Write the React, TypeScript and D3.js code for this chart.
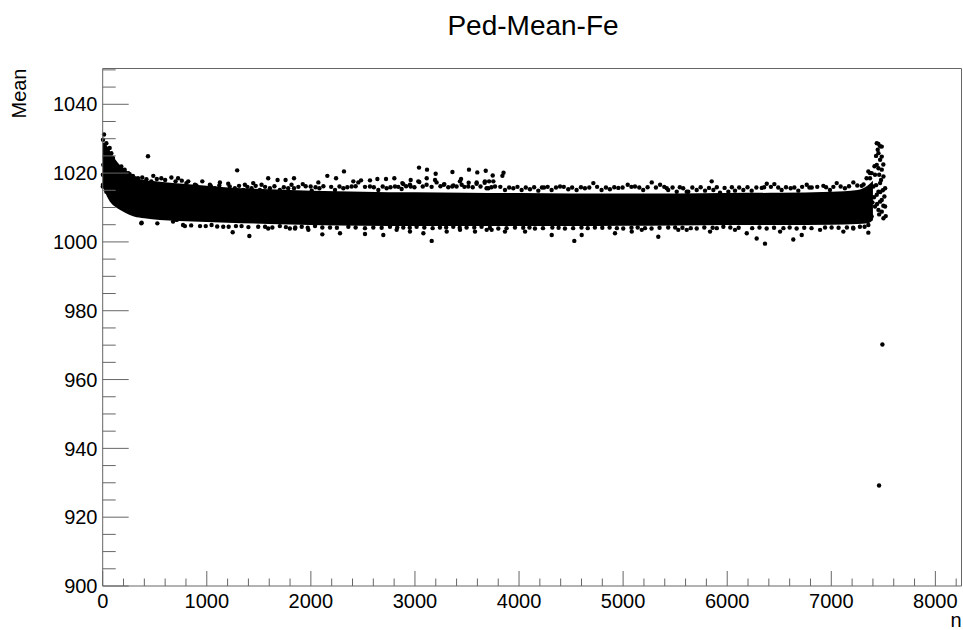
import React from "react";
import * as d3 from "d3";

// Pedestal mean per channel index n.

// Dense core of the distribution: lower / upper edge of the solid band.
const coreN = [0, 40, 80, 120, 160, 220, 300, 400, 550, 800, 1200, 1600, 2000, 2500, 3000, 3500, 4000, 4500, 5000, 5500, 6000, 6500, 7000, 7250, 7350, 7400];
const coreHi = [1029, 1028, 1025.8, 1024, 1022.5, 1021, 1018.8, 1018, 1017.5, 1016.8, 1015.8, 1015.3, 1014.9, 1014.6, 1014.4, 1014.3, 1014.2, 1014.1, 1014.1, 1014.1, 1014.2, 1014.3, 1014.6, 1015.1, 1016.4, 1017.8];
const coreLo = [1016, 1013.3, 1011.3, 1010.2, 1009.4, 1008.4, 1007.4, 1006.9, 1006.4, 1006.0, 1005.6, 1005.2, 1004.9, 1004.7, 1004.6, 1004.6, 1004.6, 1004.6, 1004.7, 1004.8, 1004.9, 1004.9, 1005.0, 1005.2, 1005.4, 1006.3];

// Channels above the core.
const upperPoints: [number, number][] = [
  [13, 1031.2], [3, 1029.7], [35, 1028.7], [67, 1027.3], [83, 1025.8], [19, 1024.8], [5, 1022.4], [99, 1024.4], [115, 1022.9],
  [2, 1019.5], [3, 1016.6], [51, 1018.0], [179, 1021.9], [211, 1021.0], [163, 1019.5], [259, 1019.7], [339, 1018.5], [435, 1024.9],
  [467, 1017.6], [563, 1018.5], [660, 1018.7], [724, 1018.5], [804, 1017.1], [246, 1020.0], [486, 1019.2],
  [25, 1027.0], [45, 1026.5], [60, 1025.5], [75, 1024.3], [90, 1023.5], [110, 1021.5], [130, 1022.2], [140, 1020.5], [195, 1020.2],
  [230, 1019.8], [290, 1019.2], [310, 1018.5], [380, 1018.7], [420, 1018.2], [520, 1018.3], [600, 1018.0], [700, 1017.6], [760, 1017.8],
  [822, 1017.6], [886, 1016.6], [957, 1017.6], [1030, 1016.6], [1126, 1017.3], [1206, 1016.9], [1292, 1020.8], [1366, 1016.6],
  [1446, 1017.1], [1526, 1016.6], [1590, 1018.5], [1680, 1018.0], [1757, 1018.0], [1814, 1016.6],
  [854, 1015.6], [998, 1015.1], [1078, 1015.6], [1174, 1015.1], [1270, 1015.6], [1350, 1015.1], [1430, 1015.6], [1510, 1015.1],
  [1606, 1015.6], [1702, 1015.1], [1782, 1015.6],
  [1838, 1018.5], [1922, 1016.8], [2072, 1017.3], [2158, 1019.2], [2242, 1018.5], [2318, 1020.5], [2408, 1017.6], [2482, 1017.9],
  [2568, 1017.9], [2639, 1018.3], [2722, 1018.3], [2802, 1018.5], [2879, 1017.1], [2959, 1018.0], [3039, 1021.6], [3116, 1021.0],
  [3199, 1019.8], [3360, 1020.3], [3519, 1021.0], [3599, 1020.2], [3680, 1020.7],
  [2888, 1016.8], [2959, 1016.1], [3042, 1017.4], [3113, 1018.5], [3193, 1018.0], [3282, 1016.8], [3443, 1018.3], [3449, 1016.6],
  [3369, 1016.4], [3516, 1017.2], [3593, 1017.3], [3670, 1017.2], [3747, 1019.3], [3753, 1017.6],
  [1838, 1015.6], [1998, 1016.1], [2008, 1014.9], [2082, 1015.6], [2232, 1015.1], [2312, 1015.6], [2392, 1016.1], [2456, 1017.3],
  [2568, 1016.1], [2648, 1015.1], [2728, 1015.6], [2808, 1016.1], [2872, 1015.4], [2952, 1016.6], [3032, 1017.6], [3112, 1016.6],
  [3208, 1017.3], [3278, 1016.6], [3358, 1016.1], [3432, 1017.6], [3512, 1016.1], [3592, 1016.9], [3672, 1017.6], [3688, 1015.6],
  [3712, 1017.6], [3840, 1019.2], [3851, 1020.1], [4240, 1015.8], [4394, 1016.1], [4714, 1017.1], [4954, 1015.7], [5044, 1016.6],
  [5114, 1016.1], [5275, 1017.3], [5355, 1016.6], [5419, 1015.6], [5515, 1014.6],
  [3705, 1015.6], [3769, 1016.1], [3865, 1015.1], [3945, 1015.6], [4025, 1015.1], [4105, 1015.3], [4185, 1014.9], [4313, 1015.1],
  [4473, 1015.3], [4553, 1015.1], [4633, 1015.6], [4793, 1015.1], [4873, 1015.3], [5193, 1015.1], [5433, 1015.1], [5577, 1015.6],
  [5626, 1014.6], [5851, 1017.6], [5931, 1014.3], [6075, 1014.9], [6332, 1015.7], [6380, 1016.9], [6453, 1016.8], [6610, 1015.6],
  [6764, 1016.6], [6812, 1015.8], [6924, 1016.3], [7052, 1017.1], [7212, 1017.3], [7292, 1016.3],
  [5611, 1014.6], [5707, 1015.1], [5787, 1014.9], [5867, 1015.1], [6011, 1014.6], [6155, 1015.1], [6235, 1014.9], [6523, 1015.1],
  [6683, 1014.9], [6987, 1015.1], [7131, 1015.6], [7339, 1018.5], [7371, 1020.0],
];

// Ragged top edge of the core.
const upperEdge: [number, number][] = [
  [900, 1016.4], [1040, 1016.2], [1120, 1016.4], [1220, 1016.1], [1310, 1016.3], [1390, 1016.0], [1470, 1016.3], [1560, 1016.0],
  [1650, 1016.2], [1740, 1015.9], [1880, 1016.0], [1950, 1016.2], [2045, 1015.9], [2120, 1016.2], [2195, 1016.0], [2275, 1016.1],
  [2350, 1015.9], [2430, 1016.2], [2520, 1016.0], [2605, 1015.9], [2690, 1016.1], [2765, 1015.9], [2840, 1016.0], [2915, 1016.2],
  [2995, 1015.9], [3075, 1016.1], [3160, 1016.0], [3245, 1016.2], [3320, 1015.9], [3400, 1016.1], [3475, 1016.0], [3555, 1015.9],
  [3630, 1016.1], [3735, 1015.9], [3820, 1016.0], [3905, 1015.8], [3985, 1016.0], [4065, 1015.8], [4145, 1015.9], [4220, 1015.8],
  [4275, 1016.0], [4355, 1015.8], [4430, 1016.0], [4510, 1015.8], [4595, 1015.9], [4675, 1015.8], [4750, 1016.0], [4835, 1015.8],
  [4915, 1015.9], [4995, 1015.8], [5080, 1016.0], [5155, 1015.8], [5235, 1015.9], [5315, 1015.8], [5395, 1016.0], [5475, 1015.8],
  [5545, 1015.9], [5665, 1015.8], [5745, 1015.9], [5825, 1015.7], [5900, 1015.9], [5975, 1015.7], [6045, 1015.9], [6115, 1015.8],
  [6195, 1015.9], [6280, 1015.8], [6355, 1015.9], [6420, 1016.0], [6490, 1015.8], [6565, 1015.9], [6645, 1015.8], [6720, 1016.0],
  [6790, 1015.8], [6865, 1016.0], [6950, 1015.9], [7020, 1016.0], [7090, 1016.1], [7170, 1016.2], [7250, 1016.4], [7310, 1016.7],
];

// Channels below the core.
const lowerPoints: [number, number][] = [
  [371, 1005.4], [525, 1005.4], [676, 1005.9], [772, 1004.9], [403, 1007.8], [275, 1008.8], [147, 1011.2], [115, 1012.2], [35, 1014.6], [1, 1016.1],
  [374, 1005.6], [711, 1006.4], [790, 1004.6], [935, 1004.6], [1158, 1004.4], [1249, 1002.8], [1409, 1001.7], [1590, 1003.9],
  [1798, 1003.9], [1046, 1004.9], [1334, 1004.6], [1494, 1004.4], [1702, 1004.6],
  [1848, 1003.9], [2110, 1002.2], [3161, 1000.3], [1976, 1003.5], [2280, 1002.5], [2520, 1002.3], [2696, 1002.0], [2824, 1003.5],
  [2952, 1003.0], [3081, 1002.5], [3305, 1003.0], [3433, 1003.5], [3577, 1003.0], [3689, 1003.5],
  [1912, 1004.4], [2040, 1004.6], [2184, 1004.2], [2360, 1004.4], [2600, 1004.2], [2760, 1004.4], [2888, 1004.2], [3016, 1004.4],
  [3240, 1004.2], [3368, 1004.4], [3496, 1004.2], [3640, 1004.4],
  [4531, 1000.3], [5338, 1001.5], [4314, 1002.0], [4602, 1002.0], [4922, 1002.5], [5083, 1003.0], [5179, 1003.5], [5530, 1003.5],
  [4058, 1003.0], [3865, 1003.0], [3737, 1003.5],
  [3801, 1003.9], [3961, 1004.2], [4153, 1003.9], [4441, 1003.9], [4729, 1004.2], [5001, 1003.9], [5273, 1003.9], [5433, 1004.2],
  [6363, 999.5], [6283, 1001.0], [6635, 1000.7], [6716, 1002.0], [7356, 1002.7], [5611, 1003.5], [5835, 1003.0], [6075, 1003.5],
  [6188, 1002.5], [6508, 1003.0], [6892, 1003.5], [7116, 1003.0], [7212, 1003.9],
  [5707, 1003.9], [5963, 1004.4], [6379, 1003.9], [6667, 1003.9], [7003, 1004.2], [7275, 1004.4],
];

// Ragged bottom edge of the core.
const lowerEdge: [number, number][] = [
  [850, 1004.8], [990, 1004.6], [1100, 1004.5], [1210, 1004.4], [1280, 1004.6], [1400, 1004.3], [1560, 1004.4], [1630, 1004.2],
  [1760, 1004.3], [1850, 1004.2], [1970, 1004.1], [2110, 1004.2], [2250, 1004.1], [2430, 1004.2], [2520, 1004.0], [2680, 1004.1],
  [2830, 1004.2], [2950, 1004.1], [3090, 1004.2], [3170, 1004.0], [3300, 1004.2], [3430, 1004.1], [3570, 1004.2], [3720, 1004.1],
  [3880, 1004.0], [4040, 1004.1], [4100, 1004.2], [4230, 1004.0], [4320, 1004.2], [4380, 1004.1], [4520, 1004.0], [4600, 1004.2],
  [4660, 1004.0], [4800, 1004.1], [4870, 1004.2], [4940, 1004.0], [5080, 1004.1], [5140, 1004.2], [5210, 1004.0], [5350, 1004.1],
  [5500, 1004.2], [5570, 1004.1], [5650, 1004.0], [5780, 1004.2], [5860, 1004.1], [5900, 1004.0], [6030, 1004.2], [6110, 1004.1],
  [6240, 1004.0], [6310, 1004.2], [6450, 1004.1], [6540, 1004.0], [6600, 1004.2], [6740, 1004.1], [6810, 1004.0], [6940, 1004.2],
  [7070, 1004.1], [7150, 1004.2], [7210, 1004.1], [7320, 1004.4],
];

// Last channels, where the mean rises again.
const tailPoints: [number, number][] = [
  [7437, 1028.7], [7469, 1027.8], [7453, 1025.8], [7469, 1023.9], [7437, 1022.4], [7485, 1021.0], [7420, 1019.5], [7501, 1019.0],
  [7469, 1017.1], [7517, 1015.6], [7453, 1014.6], [7510, 1013.2], [7469, 1011.7], [7517, 1010.3], [7485, 1008.8], [7523, 1007.5],
  [7388, 1020.0], [7372, 1018.5], [7356, 1020.5], [7404, 1016.1], [7420, 1010.3], [7388, 1007.4], [7356, 1004.9], [7446, 1026.8],
  [7485, 1024.8], [7453, 1021.4], [7478, 1018.0], [7437, 1013.7], [7485, 1012.2], [7453, 1009.3], [7501, 1006.9],
  [7452, 1028.5], [7485, 1027.7], [7430, 1016.5], [7460, 1019.5], [7495, 1015.0], [7440, 1011.0], [7470, 1014.5], [7500, 1022.5],
  [7430, 1025.0], [7460, 1008.0], [7410, 1013.0], [7395, 1011.5], [7415, 1022.0], [7500, 1010.5],
];

// Two isolated low channels.
const outlierPoints: [number, number][] = [
  [7491, 970.2], [7459, 929.2],
];

const xMajorTicks = [0, 1000, 2000, 3000, 4000, 5000, 6000, 7000, 8000];
const yMajorTicks = [900, 920, 940, 960, 980, 1000, 1020, 1040];

const W = 963;
const H = 630;
const FONT = "'Liberation Sans', Arial, Helvetica, sans-serif";
const AXIS = "#666";

export default function App() {
  const x = d3.scaleLinear().domain([0, 8251]).range([102.7, 961.5]);
  const y = d3.scaleLinear().domain([900, 1050.4]).range([586, 68.5]);

  const xMinor = d3.range(0, 8251, 200).filter((v) => v % 1000 !== 0);
  const yMinor = d3.range(900, 1050.4, 5).filter((v) => v % 20 !== 0);

  const band = d3
    .area<number>()
    .x((_, i) => x(coreN[i]))
    .y0((_, i) => y(coreLo[i]))
    .y1((_, i) => y(coreHi[i]))
    .curve(d3.curveMonotoneX)(coreN);

  const allPoints = [...upperPoints, ...upperEdge, ...lowerPoints, ...lowerEdge, ...tailPoints, ...outlierPoints];
  const left = x(0);
  const bottom = y(900);
  const top = y.range()[1];
  const right = x.range()[1];

  return (
    <svg width={W} height={H} style={{ position: "absolute", left: 0, top: 0, background: "#fff" }}>
      <rect x={0} y={0} width={W} height={H} fill="#fff" />
      {/* title */}
      <text x={533} y={35} textAnchor="middle" fontFamily={FONT} fontSize={28} fill="#000">
        Ped-Mean-Fe
      </text>

      {/* data */}
      <path d={band ?? ""} fill="#000" />
      {allPoints.map(([n, v], i) => (
        <circle key={i} cx={x(n)} cy={y(v)} r={2.2} fill="#000" />
      ))}

      {/* frame */}
      <line x1={left} x2={right} y1={top} y2={top} stroke={AXIS} />
      <line x1={right} x2={right} y1={top} y2={bottom} stroke={AXIS} />
      <line x1={left} x2={right} y1={bottom} y2={bottom} stroke={AXIS} />
      <line x1={left} x2={left} y1={top} y2={bottom} stroke={AXIS} />

      {/* x axis ticks */}
      {xMajorTicks.map((t) => (
        <line key={"xM" + t} x1={x(t)} x2={x(t)} y1={bottom} y2={bottom - 15} stroke={AXIS} />
      ))}
      {xMinor.map((t) => (
        <line key={"xm" + t} x1={x(t)} x2={x(t)} y1={bottom} y2={bottom - 7.5} stroke={AXIS} />
      ))}
      {xMajorTicks.map((t) => (
        <text key={"xl" + t} x={x(t)} y={608.3} textAnchor="middle" fontFamily={FONT} fontSize={20} fill="#000">
          {t}
        </text>
      ))}
      <text x={961.5} y={627} textAnchor="end" fontFamily={FONT} fontSize={20} fill="#000">
        n
      </text>

      {/* y axis ticks */}
      {yMajorTicks.map((t) => (
        <line key={"yM" + t} x1={left} x2={left + 26} y1={y(t)} y2={y(t)} stroke={AXIS} />
      ))}
      {yMinor.map((t) => (
        <line key={"ym" + t} x1={left} x2={left + 13} y1={y(t)} y2={y(t)} stroke={AXIS} />
      ))}
      {yMajorTicks.map((t) => (
        <text key={"yl" + t} x={97.5} y={y(t)} dy="0.36em" textAnchor="end" fontFamily={FONT} fontSize={20} fill="#000">
          {t}
        </text>
      ))}
      <text
        transform={`translate(25.5, ${top}) rotate(-90)`}
        textAnchor="end"
        fontFamily={FONT}
        fontSize={20}
        fill="#000"
      >
        Mean
      </text>
    </svg>
  );
}
